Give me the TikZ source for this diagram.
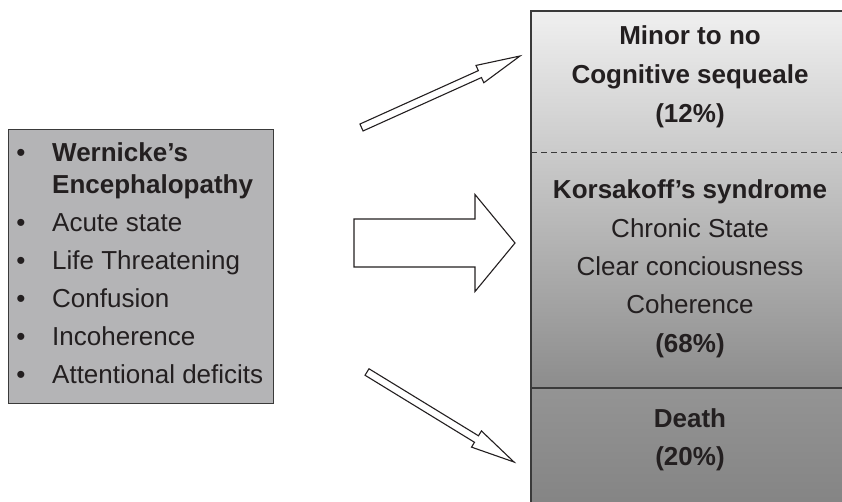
\documentclass[tikz,border=0pt]{standalone}
\usepackage{fontspec}
\setmainfont{Liberation Sans}
\usetikzlibrary{calc}
\definecolor{txt}{HTML}{231F20}
\definecolor{edge}{HTML}{3A3A3A}
\definecolor{leftfill}{HTML}{B4B4B6}
\newcommand{\blockarrow}[5]{%
  \draw[arrowline]
    ($(#1)!#3!-90:(#2)$) --
    ($($(#2)!#5!(#1)$)!#3!-90:(#2)$) --
    ($($(#2)!#5!(#1)$)!#4!-90:(#2)$) --
    (#2) --
    ($($(#2)!#5!(#1)$)!#4!90:(#2)$) --
    ($($(#2)!#5!(#1)$)!#3!90:(#2)$) --
    ($(#1)!#3!90:(#2)$) -- cycle;}
\begin{document}
\begin{tikzpicture}[x=1pt,y=-1pt,
  every node/.style={text=txt, font=\fontsize{26}{31}\selectfont, inner sep=0pt},
  item/.style={anchor=base west},
  bul/.style={anchor=base},
  ctr/.style={anchor=base, font=\fontsize{26}{31}\selectfont},
  ctrb/.style={anchor=base, font=\fontsize{26}{31}\selectfont\bfseries},
  arrowline/.style={draw=txt, line width=1.1pt, fill=white, line join=miter},
  boxline/.style={draw=edge, line width=1.3pt}]
\useasboundingbox (0,0) rectangle (842,501);
\clip (0,0) rectangle (842,501);
% left box
\node[boxline, fill=leftfill, minimum width=265pt, minimum height=274pt, anchor=north west] (we) at (8,129) {};
\foreach \y in {161,231,269,307,345,383} \node[bul] at (21,\y) {\textbullet};
\node[item, font=\fontsize{26}{31}\selectfont\bfseries] (w1) at (52,161) {Wernicke’s};
\node[item, font=\fontsize{26}{31}\selectfont\bfseries] (w2) at (52,193) {Encephalopathy};
\node[item] (w3) at (52,231) {Acute state};
\node[item] (w4) at (52,269) {Life Threatening};
\node[item] (w5) at (52,307) {Confusion};
\node[item] (w6) at (52,345) {Incoherence};
\node[item] (w7) at (52,383) {Attentional deficits};
% right box
\shade[top color=white!94!black, bottom color=black!45!white] (531,11) rectangle (846,388);
\shade[top color=black!42!white, bottom color=black!48!white] (531,388) rectangle (846,503);
\node[minimum width=315pt, minimum height=141pt, anchor=north west] (minor) at (531,11) {};
\node[minimum width=315pt, minimum height=236pt, anchor=north west] (kors) at (531,152) {};
\node[minimum width=315pt, minimum height=115pt, anchor=north west] (death) at (531,388) {};
\draw[boxline] (846,11) -- (531,11) -- (531,503);
\draw[draw=edge, line width=1pt, dash pattern=on 6pt off 4pt] (minor.south west) -- (minor.south east);
\draw[boxline] (death.north west) -- (death.north east);
\node[ctrb] at (690,44) {Minor to no};
\node[ctrb] at (690,83) {Cognitive sequeale};
\node[ctrb] at (690,122) {(12\%)};
\node[ctrb] at (690,198) {Korsakoff’s syndrome};
\node[ctr] at (690,237) {Chronic State};
\node[ctr] at (690,275) {Clear conciousness};
\node[ctr] at (690,313) {Coherence};
\node[ctrb] at (690,352) {(68\%)};
\node[ctrb] at (690,427) {Death};
\node[ctrb] at (690,465) {(20\%)};
% arrows
\coordinate (a1t) at (361.5,127.5);
\coordinate (a1h) at (520,56);
\coordinate (a2t) at (354,243);
\coordinate (a2h) at (515,243);
\coordinate (a3t) at (367,372);
\coordinate (a3h) at (514,462);
\blockarrow{a1t}{a1h}{3.8pt}{9.5pt}{44pt}
\blockarrow{a2t}{a2h}{24pt}{48.5pt}{40pt}
\blockarrow{a3t}{a3h}{3.8pt}{9.5pt}{44pt}
\end{tikzpicture}
\end{document}
